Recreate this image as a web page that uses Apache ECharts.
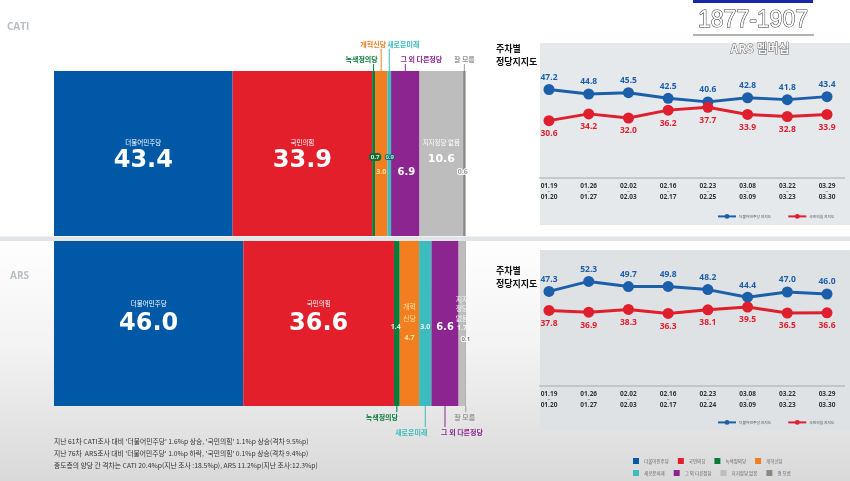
<!DOCTYPE html>
<html>
<head>
<meta charset="utf-8">
<script src="https://cdn.jsdelivr.net/npm/echarts@6/dist/echarts.min.js"></script>
<style>
  html, body { margin: 0; padding: 0; background: #fff; }
  #main { width: 850px; height: 481px; }
</style>
</head>
<body>
<div id="main"></div>
<script>
  // 데이터
  var rows = ['CATI', 'ARS'];
  var parties = ['더불어민주당', '국민의힘', '녹색정의당', '개혁신당', '새로운미래', '그 외 다른정당', '지지정당 없음', '잘 모름'];
  var catiShare = [43.4, 33.9, 0.7, 3.0, 0.9, 6.9, 10.6, 0.6];
  var arsShare = [46.0, 36.6, 1.4, 4.7, 3.0, 6.6, 1.7, 0.1];
  var partyColors = ['#0058a6', '#e31f2c', '#0b7b3c', '#f27e1f', '#3cbcbe', '#8d2590', '#bdbdbd', '#8e8783'];

  var catiWeeks = ['01.19~01.20', '01.26~01.27', '02.02~02.03', '02.16~02.17', '02.23~02.25', '03.08~03.09', '03.22~03.23', '03.29~03.30'];
  var catiDem = [47.2, 44.8, 45.5, 42.5, 40.6, 42.8, 41.8, 43.4];
  var catiPpp = [30.6, 34.2, 32.0, 36.2, 37.7, 33.9, 32.8, 33.9];

  var arsWeeks = ['01.19~01.20', '01.26~01.27', '02.02~02.03', '02.16~02.17', '02.23~02.24', '03.08~03.09', '03.22~03.23', '03.29~03.30'];
  var arsDem = [47.3, 52.3, 49.7, 49.8, 48.2, 44.4, 47.0, 46.0];
  var arsPpp = [37.8, 36.9, 38.3, 36.3, 38.1, 39.5, 36.5, 36.6];

  var lineNames = ['더불어민주당 지지도', '국민의힘 지지도'];
  var notes = [
    "지난 61차 CATI조사 대비 '더불어민주당' 1.6%p 상승, '국민의힘' 1.1%p 상승(격차 9.5%p)",
    "지난 76차  ARS조사 대비 '더불어민주당' 1.0%p 하락, '국민의힘' 0.1%p 상승(격차 9.4%p)",
    "중도층의 양당 간 격차는 CATI 20.4%p(지난 조사 :18.5%p), ARS 11.2%p(지난 조사:12.3%p)"
  ];

  var KR = '"Noto Sans CJK KR", "Noto Sans", sans-serif';
  var NUM = '"Open Sans", "Noto Sans", sans-serif';
  var BIG = '"DejaVu Sans", sans-serif';

  var myChart = echarts.init(document.getElementById('main'));

  // 막대 라벨 스타일
  function bigLabel(dy, vlh) {
    return {
      show: true, position: 'inside', offset: [0, dy],
      formatter: function (p) { return '{n|' + p.seriesName + '}\n{v|' + p.value.toFixed(1) + '}'; },
      rich: {
        n: { fontSize: 6.5, color: '#fff', lineHeight: 10, fontFamily: KR },
        v: { fontSize: 24, fontWeight: 'bold', color: '#fff', lineHeight: vlh, fontFamily: BIG }
      }
    };
  }
  function numLabel(dx, dy, color, size, extra) {
    var l = {
      show: true, position: 'inside', offset: [dx, dy],
      formatter: function (p) { return p.value.toFixed(1); },
      color: color, fontSize: size || 7, fontWeight: 'bold', fontFamily: NUM
    };
    for (var k in extra) l[k] = extra[k];
    return l;
  }

  var catiLabels = [
    bigLabel(2.5, 26),
    bigLabel(2.5, 26),
    numLabel(1.5, 3.5, '#d9f5e3', 6, { backgroundColor: '#156b3a', borderRadius: 4, padding: [1, 2] }),
    numLabel(0, 18, '#ffe6a3', 7),
    numLabel(0.5, 3.5, '#9ff0f0', 6, { textBorderColor: '#1d5e60', textBorderWidth: 2 }),
    numLabel(1, 18.5, '#fff', 10, { fontFamily: BIG }),
    {
      show: true, position: 'inside', offset: [0, 0.5],
      formatter: function (p) { return '{n|지지정당 없음}\n{v|' + p.value.toFixed(1) + '}'; },
      rich: {
        n: { fontSize: 6.5, color: '#fff', lineHeight: 10, fontFamily: KR },
        v: { fontSize: 11, fontWeight: 'bold', color: '#fff', lineHeight: 22, fontFamily: BIG }
      }
    },
    numLabel(-1.5, 18, '#9a9a9a', 7, { textBorderColor: '#fff', textBorderWidth: 2 })
  ];
  var arsLabels = [
    bigLabel(-4.5, 30),
    bigLabel(-4.5, 30),
    numLabel(-1, 3.5, '#d6f3df', 7),
    {
      show: true, position: 'inside', offset: [0, 2.5],
      formatter: function (p) { return '{n|개혁}\n{n|신당}\n{v|' + p.value.toFixed(1) + '}'; },
      rich: {
        n: { fontSize: 7, color: '#ffe6a3', lineHeight: 12, fontFamily: KR },
        v: { fontSize: 7, fontWeight: 'bold', color: '#ffe6a3', lineHeight: 28, fontFamily: NUM }
      }
    },
    numLabel(0, 3.5, '#e4fbfb', 7),
    numLabel(0, 3.5, '#fff', 10, { fontFamily: BIG }),
    {
      show: true, position: 'inside', offset: [0, -10],
      formatter: function (p) { return '{n|지지}\n{n|정당}\n{n|없음}\n{v|' + p.value.toFixed(1) + '}'; },
      rich: {
        n: { fontSize: 7, color: '#f4f4f4', lineHeight: 9.5, fontFamily: KR },
        v: { fontSize: 7, fontWeight: 'bold', color: '#f4f4f4', lineHeight: 9.5, fontFamily: NUM }
      }
    },
    numLabel(0, 15.5, '#777', 6, { textBorderColor: '#fff', textBorderWidth: 2 })
  ];

  var series = [];
  parties.forEach(function (name, i) {
    series.push({
      name: name, type: 'bar', stack: 'all', xAxisIndex: 0, yAxisIndex: 0,
      barWidth: 165, itemStyle: { color: partyColors[i] },
      emphasis: { disabled: true },
      data: [
        { value: catiShare[i], label: catiLabels[i] },
        { value: arsShare[i], label: arsLabels[i] }
      ]
    });
  });

  function lineSeries(name, data, idx, color, pos) {
    return {
      name: name, type: 'line', xAxisIndex: idx, yAxisIndex: idx, data: data,
      symbol: 'circle', symbolSize: 11, z: 5,
      lineStyle: { color: color, width: 3 }, itemStyle: { color: color },
      label: { show: true, position: pos, distance: pos === 'top' ? 2 : 3, color: color, fontSize: 8.5, fontWeight: 'bold', fontFamily: NUM,
        formatter: function (p) { return p.value.toFixed(1); } },
      emphasis: { disabled: true }
    };
  }
  series.push(lineSeries(lineNames[0], catiDem, 1, '#1b5fab', 'top'));
  series.push(lineSeries(lineNames[1], catiPpp, 1, '#df1f2d', 'bottom'));
  series.push(lineSeries(lineNames[0], arsDem, 2, '#1b5fab', 'top'));
  series.push(lineSeries(lineNames[1], arsPpp, 2, '#df1f2d', 'bottom'));

  function weekAxis(idx, weeks) {
    return {
      type: 'category', gridIndex: idx, data: weeks, boundaryGap: false,
      axisLine: { show: false }, axisTick: { show: false },
      axisLabel: {
        interval: 0, margin: 4,
        formatter: function (v) {
          var s = v.split('~');
          return '{a|' + s[0] + '}\n{t|~}\n{a|' + s[1] + '}';
        },
        rich: {
          a: { fontSize: 6.5, fontWeight: 'bold', color: '#333', lineHeight: 8, fontFamily: NUM },
          t: { fontSize: 5, color: '#777', lineHeight: 3 }
        }
      }
    };
  }
  function valAxis(idx, max) {
    return { type: 'value', gridIndex: idx, min: 0, max: max, show: false, splitLine: { show: false } };
  }

  var lineLegendCommon = {
    data: lineNames, width: 200, orient: 'horizontal', itemWidth: 18, itemHeight: 6, itemGap: 16, selectedMode: false,
    textStyle: { fontSize: 3.8, color: '#555', fontFamily: KR, padding: [0, 0, 0, -2] }
  };
  var partyLegendCommon = {
    icon: 'rect', itemWidth: 6, itemHeight: 6, itemGap: 9, selectedMode: false, width: 220,
    textStyle: { fontSize: 4.5, color: '#666', width: 25, fontFamily: KR }
  };

  var option = {
    animation: false,
    grid: [
      { left: 54, top: 68.5, width: 412, height: 340 },
      { left: 549, top: 43, width: 278, height: 135 },
      { left: 549, top: 250, width: 278, height: 136 }
    ],
    xAxis: [
      { type: 'value', gridIndex: 0, min: 0, max: 100.1, show: false },
      weekAxis(1, catiWeeks),
      weekAxis(2, arsWeeks)
    ],
    yAxis: [
      { type: 'category', gridIndex: 0, data: rows, inverse: true, show: false },
      valAxis(1, 72),
      valAxis(2, 68)
    ],
    legend: [
      Object.assign({ left: 712, top: 209 }, lineLegendCommon),
      Object.assign({ left: 712, top: 415 }, lineLegendCommon),
      Object.assign({ data: parties.slice(0, 4), left: 628, top: 453 }, partyLegendCommon),
      Object.assign({ data: parties.slice(4), left: 628, top: 465 }, partyLegendCommon)
    ],
    series: series
  };
  myChart.setOption(option);

  // 배경, 제목, 주석, 콜아웃
  var g = [];
  g.push({ type: 'rect', z: -10, shape: { x: 0, y: 238, width: 850, height: 243 },
    style: { fill: new echarts.graphic.LinearGradient(0, 0, 0, 1, [
      { offset: 0, color: '#ffffff' }, { offset: 0.45, color: '#f3f3f3' }, { offset: 1, color: '#d9d9d9' }]) } });
  g.push({ type: 'rect', z: -9, shape: { x: 0, y: 236.5, width: 850, height: 4.5 }, style: { fill: '#e1e5e7' } });
  g.push({ type: 'rect', z: -8, shape: { x: 540, y: 43, width: 310, height: 182 }, style: { fill: '#e6e9eb' } });
  g.push({ type: 'rect', z: -8, shape: { x: 540, y: 250, width: 310, height: 180 }, style: { fill: '#dfe2e4' } });
  g.push({ type: 'line', z: -7, shape: { x1: 539, y1: 178, x2: 845, y2: 178 }, style: { stroke: '#a5a9ad', lineWidth: 1 } });
  g.push({ type: 'line', z: -7, shape: { x1: 539, y1: 386, x2: 845, y2: 386 }, style: { stroke: '#a5a9ad', lineWidth: 1 } });

  g.push({ type: 'text', x: 7, y: 22, style: { text: 'CATI', fill: '#b7bfc5', font: 'bold 10px ' + NUM } });
  g.push({ type: 'text', x: 10, y: 271, style: { text: 'ARS', fill: '#b7bfc5', font: 'bold 10px ' + NUM } });
  g.push({ type: 'text', x: 496, y: 42, style: { text: '주차별\n정당지지도', fill: '#111', font: 'bold 9px ' + KR, lineHeight: 13 } });
  g.push({ type: 'text', x: 496, y: 264, style: { text: '주차별\n정당지지도', fill: '#111', font: 'bold 9px ' + KR, lineHeight: 13 } });

  // 로고
  g.push({ type: 'rect', shape: { x: 693, y: 0, width: 120, height: 3 }, style: { fill: '#1b27a6' } });
  g.push({ type: 'text', x: 753, y: 21, z: 20, style: { text: '1877-1907', align: 'center', verticalAlign: 'middle',
    font: '23px "Liberation Sans", sans-serif', fill: '#fff', stroke: '#333', lineWidth: 1 } });
  g.push({ type: 'line', shape: { x1: 693, y1: 35, x2: 814, y2: 35 }, style: { stroke: '#666', lineWidth: 1 } });
  g.push({ type: 'text', x: 760, y: 48, z: 20, style: { text: 'ARS 멤버십', align: 'center', verticalAlign: 'middle',
    font: 'bold 12px ' + KR, fill: '#f4f4f4', stroke: '#555', lineWidth: 0.8 } });

  notes.forEach(function (t, i) {
    g.push({ type: 'text', x: 54, y: 438 + i * 12, style: { text: t, fill: '#333', font: '6.8px ' + KR } });
  });

  // 콜아웃 위치는 막대 축에서 계산
  function segCenter(vals, i) {
    var s = 0;
    for (var k = 0; k < i; k++) s += vals[k];
    return myChart.convertToPixel({ xAxisIndex: 0 }, s + vals[i] / 2);
  }
  var calloutColors = partyColors.slice();
  calloutColors[6] = '#999'; calloutColors[7] = '#9a9a9a';
  var topCallouts = [[2, 59, -12], [3, 44, -8], [4, 44, 14], [5, 59, 16], [7, 59, 0]];
  var botCallouts = [[2, 417, -15], [4, 432, -14], [5, 432, 17], [7, 417, -1]];
  topCallouts.forEach(function (c) {
    var x = segCenter(catiShare, c[0]);
    g.push({ type: 'line', shape: { x1: x, y1: c[1] + 5, x2: x, y2: 71 }, style: { stroke: calloutColors[c[0]], lineWidth: 1 } });
    g.push({ type: 'text', x: x + c[2], y: c[1], z: 20, style: { text: parties[c[0]], align: 'center', verticalAlign: 'middle',
      fill: calloutColors[c[0]], font: 'bold 7px ' + KR } });
  });
  botCallouts.forEach(function (c) {
    var x = segCenter(arsShare, c[0]);
    g.push({ type: 'line', shape: { x1: x, y1: 406, x2: x, y2: c[1] - 5 }, style: { stroke: calloutColors[c[0]], lineWidth: 1 } });
    g.push({ type: 'text', x: x + c[2], y: c[1], z: 20, style: { text: parties[c[0]], align: 'center', verticalAlign: 'middle',
      fill: calloutColors[c[0]], font: 'bold 7px ' + KR } });
  });

  myChart.setOption({ graphic: { elements: g } });
</script>
</body>
</html>
